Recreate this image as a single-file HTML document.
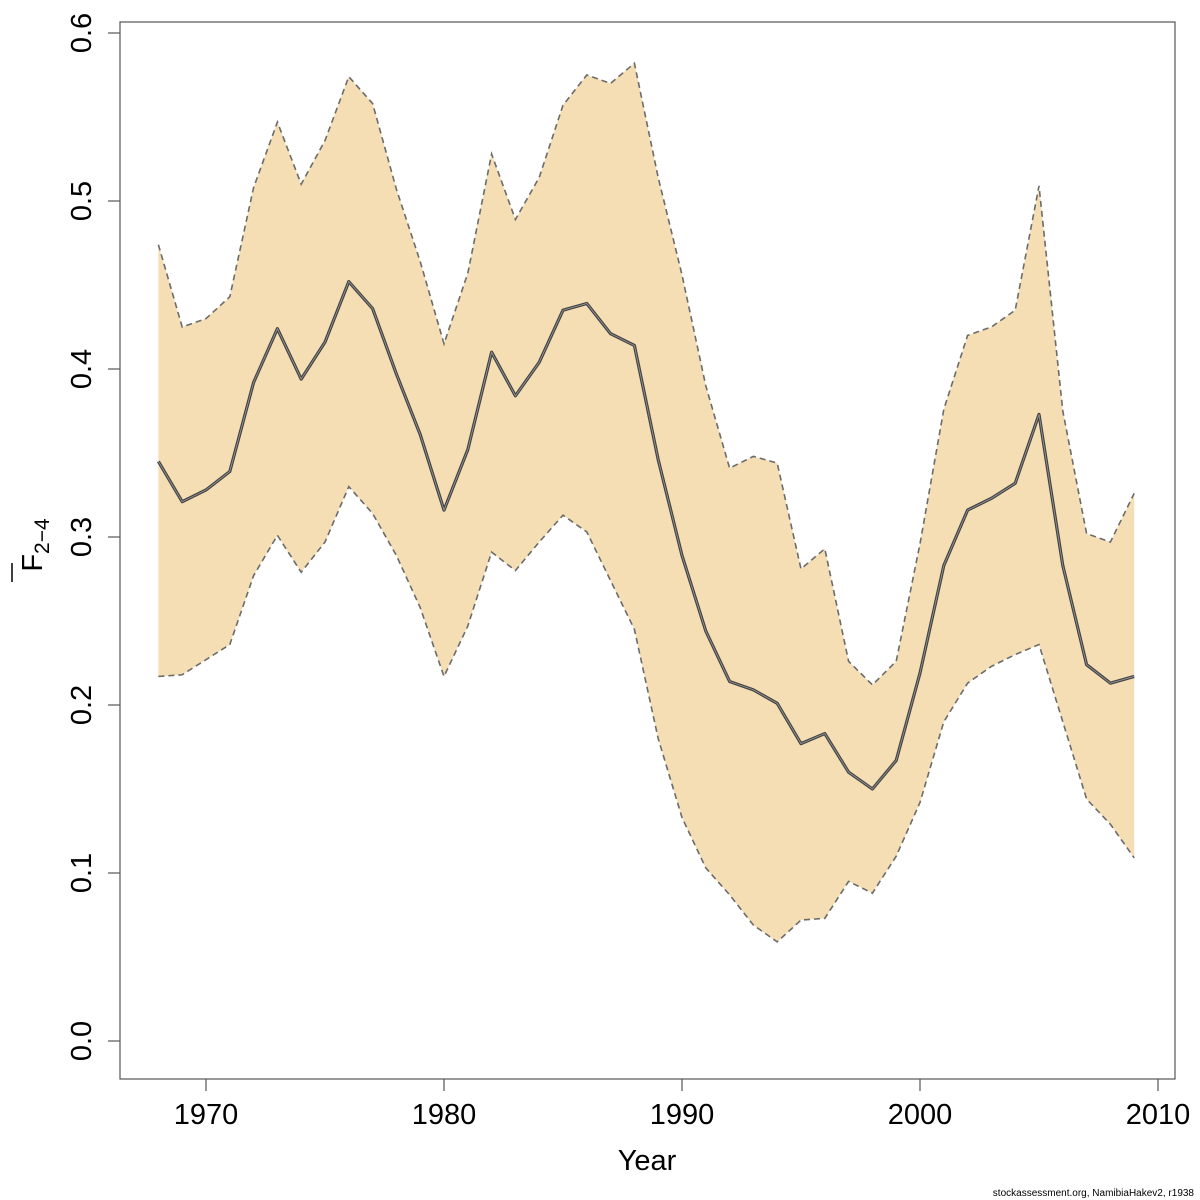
<!DOCTYPE html>
<html><head><meta charset="utf-8"><style>
html,body{margin:0;padding:0;background:#fff;}
svg{display:block;font-family:"Liberation Sans","DejaVu Sans",sans-serif;}
</style></head><body>
<svg id="chart" width="1200" height="1200" viewBox="0 0 1200 1200"></svg>
<script>
const years = [];
for (let y = 1968; y <= 2009; y++) years.push(y);
const centralF = [0.345,0.321,0.328,0.339,0.392,0.424,0.394,0.416,0.452,0.436,0.397,0.361,0.316,0.352,0.410,0.384,0.404,0.435,0.439,0.421,0.414,0.346,0.289,0.244,0.214,0.209,0.201,0.177,0.183,0.160,0.150,0.167,0.219,0.283,0.316,0.323,0.332,0.373,0.283,0.224,0.213,0.217];
const upperF = [0.474,0.425,0.430,0.443,0.508,0.547,0.510,0.536,0.574,0.558,0.507,0.464,0.415,0.457,0.528,0.489,0.514,0.557,0.575,0.570,0.582,0.514,0.456,0.390,0.341,0.348,0.344,0.281,0.293,0.226,0.212,0.226,0.296,0.376,0.420,0.425,0.435,0.509,0.375,0.302,0.297,0.326];
const lowerF = [0.217,0.218,0.227,0.236,0.277,0.301,0.279,0.297,0.330,0.314,0.289,0.258,0.217,0.247,0.291,0.280,0.297,0.313,0.303,0.274,0.245,0.180,0.133,0.103,0.087,0.069,0.059,0.072,0.073,0.095,0.088,0.110,0.142,0.190,0.213,0.223,0.230,0.236,0.190,0.144,0.129,0.109];
const xTicks = [1970,1980,1990,2000,2010];
const yTicks = [0.0,0.1,0.2,0.3,0.4,0.5,0.6];
const yTickLabels = ["0.0","0.1","0.2","0.3","0.4","0.5","0.6"];

const NS = "http://www.w3.org/2000/svg";
const svg = document.getElementById("chart");
const xS = v => 206 + (v - 1970) * 23.8;
const yS = v => 1041 - v * 1680;
function mk(tag, attrs, parent) {
  const e = document.createElementNS(NS, tag);
  for (const k in attrs) e.setAttribute(k, attrs[k]);
  (parent || svg).appendChild(e);
  return e;
}
// band
const upPts = years.map((y,i)=>xS(y)+","+yS(upperF[i]));
const loPts = years.map((y,i)=>xS(y)+","+yS(lowerF[i])).reverse();
const band = mk("polygon",{points:upPts.concat(loPts).join(" "),fill:"#f5deb3",stroke:"none"});


const up = mk("polyline",{points:upPts.join(" "),fill:"none",stroke:"#6b6b6b","stroke-width":1.6,"stroke-dasharray":"6,4"});


const lo = mk("polyline",{points:loPts.slice().reverse().join(" "),fill:"none",stroke:"#6b6b6b","stroke-width":1.6,"stroke-dasharray":"6,4"});


const cPts = years.map((y,i)=>xS(y)+","+yS(centralF[i])).join(" ");
const c1 = mk("polyline",{points:cPts,fill:"none",stroke:"#444","stroke-width":3.2,"stroke-linejoin":"round"});


const c2 = mk("polyline",{points:cPts,fill:"none",stroke:"#999","stroke-width":0.8});


// frame
const frame = mk("rect",{x:120,y:22,width:1055,height:1057,fill:"none",stroke:"#555","stroke-width":1.2});


// x ticks
xTicks.forEach(t=>{
  const l = mk("line",{x1:xS(t),x2:xS(t),y1:1079,y2:1091,stroke:"#555","stroke-width":1.2});
  
  
  const tx = mk("text",{x:xS(t),y:1124,"text-anchor":"middle","font-size":29,fill:"#000"});
  tx.textContent = t;
  
  
});
yTicks.forEach((t,i)=>{
  const l = mk("line",{x1:108,x2:120,y1:yS(t),y2:yS(t),stroke:"#555","stroke-width":1.2});
  
  
  const tx = mk("text",{x:0,y:0,transform:`translate(91,${yS(t)}) rotate(-90)`,"text-anchor":"middle","font-size":29,fill:"#000"});
  tx.textContent = yTickLabels[i];
  
  
});
const xt = mk("text",{x:647,y:1170,"text-anchor":"middle","font-size":29,fill:"#000"});
xt.textContent = "Year";


const yt = mk("text",{x:0,y:0,transform:"translate(42,545) rotate(-90)","text-anchor":"middle","font-size":29,fill:"#000"});


const f = mk("tspan",{},yt); f.textContent = "F";
const s = mk("tspan",{"font-size":21,dy:7},yt); s.textContent = "2\u22124";
const ol = mk("line",{x1:12,x2:12,y1:563,y2:582,stroke:"#000","stroke-width":1.5});


const ft = mk("text",{x:1194,y:1196,"text-anchor":"end","font-size":10,fill:"#000"});
ft.textContent = "stockassessment.org, NamibiaHakev2, r1938";


</script>
</body></html>
